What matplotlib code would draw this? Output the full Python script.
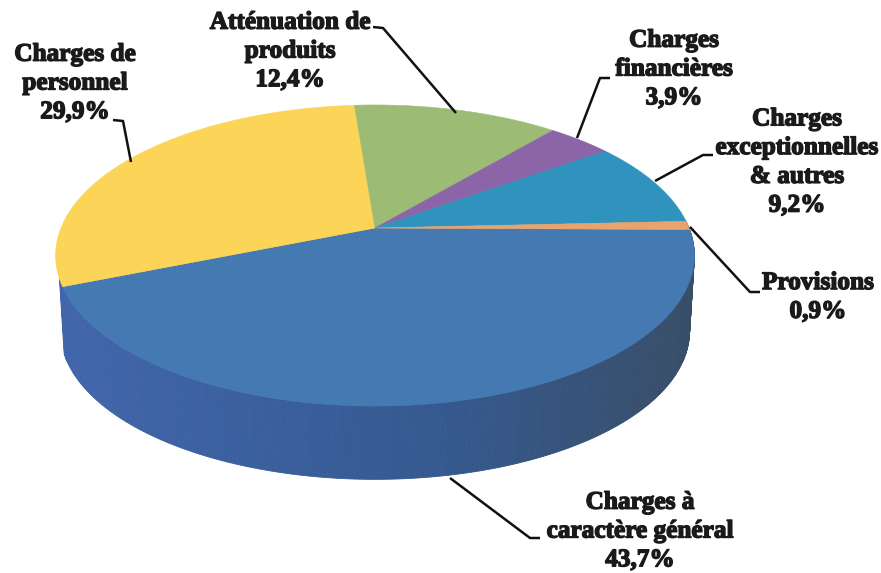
import numpy as np
import matplotlib
matplotlib.use("Agg")
import matplotlib.pyplot as plt
import matplotlib.patheffects as pe

labels = ["Charges à\ncaractère général\n43,7%", "Charges de\npersonnel\n29,9%",
          "Atténuation de\nproduits\n12,4%", "Charges\nfinancières\n3,9%",
          "Charges\nexceptionnelles\n& autres\n9,2%", "Provisions\n0,9%"]
values = [43.7, 29.9, 12.4, 3.9, 9.2, 0.9]
colors = ["#4579B2", "#FCD558", "#9CBC75", "#8C64A8", "#2F93BD", "#E9A36E"]
label_xy = [(640, 531), (75, 83), (290, 51), (674, 69), (797, 162), (818, 297)]
leaders = [[(540, 538), (530, 538), (450, 478)],
           [(113, 120), (123, 121), (131, 162)],
           [(373, 27), (383, 28), (456, 113)],
           [(610, 78), (600, 78), (577, 138)],
           [(713, 155), (703, 155), (655, 181)],
           [(760, 292), (750, 292), (690, 227)]]

CX, CY, A, B, K = 375, 228, 314, 145.5, 0.1827
DEPTH = 76

def project(theta, r=1.0, scale=1.0, dy=0.0):
    x, y = r * np.cos(theta), r * np.sin(theta)
    d = 1 + K * y
    return CX + scale * A * x / d, CY + dy - scale * B * y / d

fig = plt.figure(figsize=(8.81, 5.73), dpi=100)
ax = fig.add_axes([0, 0, 1, 1])
ax.set_xlim(0, 881)
ax.set_ylim(573, 0)
ax.axis("off")

# side wall of the front slice, shaded from left to right
starts = -np.cumsum([0] + values[:-1]) / 100 * 2 * np.pi - np.radians(0.6)
ends = -np.cumsum(values) / 100 * 2 * np.pi - np.radians(0.6)
t_wall = np.linspace(ends[0] - np.radians(3), 0.05, 240)
c_left = np.array([0x41, 0x66, 0xAB]) / 255
c_mid = np.array([0x35, 0x59, 0x90]) / 255
c_right = np.array([0x38, 0x4E, 0x68]) / 255
for t0, t1 in zip(t_wall[:-1], t_wall[1:]):
    x0, y0 = project(t0)
    x1, y1 = project(t1)
    x2, y2 = project(t1, scale=0.985, dy=DEPTH)
    x3, y3 = project(t0, scale=0.985, dy=DEPTH)
    f = (x0 - 60) / 630
    col = c_left + (c_mid - c_left) * f / 0.6 if f < 0.6 else c_mid + (c_right - c_mid) * (f - 0.6) / 0.4
    ax.fill([x0, x1, x2, x3], [y0, y1, y2, y3], color=np.clip(col, 0, 1), lw=0.6, zorder=1)

# top face
for s, e, c in zip(starts, ends, colors):
    t = np.linspace(s, e, 200)
    xs, ys = project(t)
    ax.fill(np.r_[CX, xs], np.r_[CY, ys], color=c, lw=0.4, zorder=2)

for pts in leaders:
    ax.plot(*zip(*pts), color="#111111", lw=1.8, zorder=3, solid_capstyle="butt")

for txt, (x, y) in zip(labels, label_xy):
    ax.text(x, y, txt, ha="center", va="center", fontsize=18.2, linespacing=1.32,
            family="Liberation Serif", weight="bold", color="#1a1a1a", zorder=4,
            path_effects=[pe.withStroke(linewidth=1.0, foreground="#1a1a1a")])

fig.savefig("out.png", dpi=100)
